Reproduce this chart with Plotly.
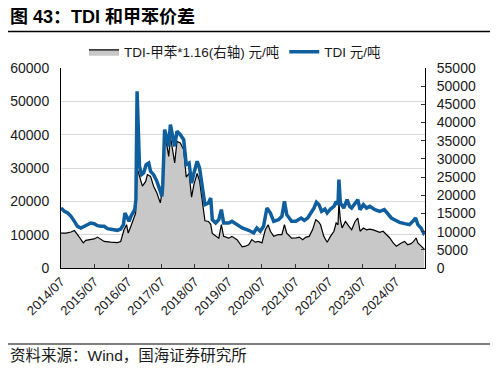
import plotly.graph_objects as go

# TDI price (left axis, 元/吨)
tdi_dates = [
    "2014-07-01", "2014-08-07", "2014-09-12", "2014-10-18", "2014-11-24", "2014-12-28",
    "2015-02-03", "2015-03-10", "2015-04-15", "2015-05-22", "2015-06-28", "2015-08-03",
    "2015-09-10", "2015-10-15", "2015-11-20", "2016-01-12", "2016-03-06", "2016-04-12",
    "2016-05-12", "2016-05-28", "2016-06-25", "2016-07-12", "2016-08-01", "2016-08-28",
    "2016-09-12", "2016-09-25", "2016-10-08", "2016-11-03", "2016-11-25", "2016-12-18",
    "2017-01-15", "2017-02-12", "2017-03-04", "2017-04-06", "2017-05-12", "2017-06-12",
    "2017-07-06", "2017-07-15", "2017-08-04", "2017-08-30", "2017-09-18", "2017-10-06",
    "2017-11-01", "2017-11-22", "2017-12-17", "2018-01-22", "2018-02-28", "2018-03-28",
    "2018-04-28", "2018-05-25", "2018-06-20", "2018-07-25", "2018-08-20", "2018-09-20",
    "2018-10-18", "2018-11-25", "2018-12-20", "2019-01-06", "2019-02-12", "2019-03-18",
    "2019-04-15", "2019-05-10", "2019-07-03", "2019-08-08", "2019-10-03", "2019-11-28",
    "2020-02-07", "2020-04-01", "2020-05-06", "2020-06-12", "2020-07-18", "2020-08-24",
    "2020-10-01", "2020-11-06", "2020-12-28", "2021-02-03", "2021-03-03", "2021-03-28",
    "2021-05-20", "2021-07-05", "2021-09-01", "2021-10-06", "2021-11-12", "2021-12-15",
    "2022-01-20", "2022-02-15", "2022-03-15", "2022-04-12", "2022-05-18", "2022-06-12",
    "2022-07-18", "2022-08-25", "2022-09-18", "2022-10-08", "2022-10-18", "2022-11-03",
    "2022-12-10", "2023-01-15", "2023-02-12", "2023-03-06", "2023-04-12", "2023-05-12",
    "2023-06-06", "2023-07-12", "2023-08-15", "2023-09-20", "2023-11-15", "2024-01-06",
    "2024-02-25", "2024-04-06", "2024-05-12", "2024-06-15", "2024-08-10", "2024-10-03",
    "2024-11-25", "2025-01-01", "2025-02-01", "2025-02-25", "2025-04-01", "2025-04-28",
    "2025-05-12",
]
tdi_values = [
    18000, 17000, 16500, 15500, 14000, 12500,
    12000, 12500, 13000, 13500, 13300, 12700,
    12500, 12500, 11800, 11500, 11300, 11700,
    13000, 16500, 14500, 14000, 15500, 17000,
    17500, 20500, 53000, 30500, 28000, 28500,
    31000, 31500, 29000, 28000, 26000, 23500,
    21500, 25000, 41500, 39000, 36500, 43000,
    39000, 36500, 41000, 40000, 38500, 31000,
    31500, 25500, 28500, 32000, 30000, 23500,
    19000, 19500, 21000, 14500, 13500, 14500,
    17500, 13500, 13500, 14000, 13000, 12000,
    11300, 10500, 12000, 11000, 12500, 18000,
    16500, 14000, 14500, 15500, 20000, 16000,
    14000, 14000, 15000, 14300, 15000, 16500,
    18000, 19700, 19000, 17000, 17700, 16500,
    17700, 18500, 20000, 19000, 26500, 19500,
    18000, 20500, 18500, 18000, 19500, 20500,
    17500, 19000, 18000, 18500, 17500, 17000,
    17500, 16000, 15000, 14500, 13700, 13300,
    13000, 14000, 15000, 13000, 12000, 10500,
    11000,
]

# TDI - toluene*1.16 spread (right axis, 元/吨)
spread_dates = [
    "2014-07-01", "2014-08-25", "2014-10-18", "2014-11-24", "2014-12-28", "2015-02-03",
    "2015-03-01", "2015-03-28", "2015-05-22", "2015-06-28", "2015-08-03", "2015-09-10",
    "2015-10-15", "2015-12-25", "2016-03-06", "2016-04-12", "2016-05-18", "2016-06-15",
    "2016-07-03", "2016-08-01", "2016-08-28", "2016-09-22", "2016-10-08", "2016-11-03",
    "2016-12-05", "2017-01-10", "2017-01-28", "2017-03-04", "2017-04-06", "2017-05-12",
    "2017-06-18", "2017-07-15", "2017-08-04", "2017-08-30", "2017-09-18", "2017-10-06",
    "2017-11-01", "2017-11-22", "2017-12-17", "2018-01-22", "2018-02-28", "2018-03-28",
    "2018-04-28", "2018-05-25", "2018-06-20", "2018-07-25", "2018-08-20", "2018-09-20",
    "2018-10-18", "2018-11-25", "2018-12-20", "2019-01-06", "2019-02-12", "2019-03-18",
    "2019-04-15", "2019-05-10", "2019-07-03", "2019-08-08", "2019-10-03", "2019-11-28",
    "2020-01-03", "2020-02-07", "2020-03-12", "2020-04-18", "2020-05-25", "2020-07-01",
    "2020-08-06", "2020-09-06", "2020-10-01", "2020-11-06", "2020-12-28", "2021-02-03",
    "2021-03-03", "2021-03-28", "2021-05-20", "2021-07-05", "2021-08-12", "2021-09-18",
    "2021-10-25", "2021-11-28", "2022-01-03", "2022-02-08", "2022-03-06", "2022-04-01",
    "2022-05-06", "2022-06-12", "2022-07-18", "2022-08-25", "2022-09-18", "2022-10-08",
    "2022-10-18", "2022-11-03", "2022-11-22", "2022-12-28", "2023-02-03", "2023-03-06",
    "2023-04-12", "2023-05-12", "2023-06-06", "2023-07-12", "2023-08-15", "2023-09-20",
    "2023-10-28", "2023-12-03", "2024-01-06", "2024-02-12", "2024-03-18", "2024-04-25",
    "2024-06-01", "2024-07-06", "2024-08-28", "2024-10-03", "2024-11-06", "2024-12-12",
    "2025-01-10", "2025-02-06", "2025-02-25", "2025-04-01", "2025-05-06",
]
spread_values = [
    9600, 9600, 9900, 10300, 9200, 7800,
    6900, 7600, 7800, 8000, 8500, 7800,
    7300, 7100, 7000, 7300, 10500, 11900,
    9600, 11500, 13300, 15100, 27500, 25200,
    22500, 23800, 25700, 25200, 22500, 20600,
    17900, 22000, 36000, 33500, 30700, 36200,
    31600, 28900, 34800, 34400, 32500, 25000,
    26000, 19500, 23000, 26000, 24000, 17500,
    13000, 12800, 12000, 9500, 8700, 8200,
    11900, 8700, 8200, 8700, 7800, 5800,
    6000, 6400, 7800, 7100, 7300, 6900,
    10500, 11900, 10100, 8700, 9200, 9200,
    11900, 9600, 8200, 8250, 8500, 7800,
    8500, 8700, 10500, 13300, 12800, 11900,
    8700, 7100, 8700, 10100, 12400, 11900,
    17900, 13300, 11000, 12800, 11500, 10500,
    12800, 13700, 10100, 11000, 10500, 10700,
    10500, 10100, 9800, 10100, 9200, 8250,
    6900, 6000, 6900, 7300, 6400, 6700,
    7300, 8250, 6900, 6100, 5200,
]

x_tick_vals = ["2014-07-01", "2015-07-01", "2016-07-01", "2017-07-01", "2018-07-01",
               "2019-07-01", "2020-07-01", "2021-07-01", "2022-07-01", "2023-07-01",
               "2024-07-01"]
x_tick_text = ["2014/07", "2015/07", "2016/07", "2017/07", "2018/07", "2019/07",
               "2020/07", "2021/07", "2022/07", "2023/07", "2024/07"]

FONT = "Liberation Sans, Arial, Noto Sans CJK SC, sans-serif"

fig = go.Figure()
fig.add_trace(go.Scatter(
    x=spread_dates, y=spread_values, yaxis="y2", name="TDI-甲苯*1.16(右轴) 元/吨",
    mode="lines", line=dict(color="black", width=1.2), fill="tozeroy",
    fillcolor="#c8c8c8",
))
fig.add_trace(go.Scatter(
    x=tdi_dates, y=tdi_values, yaxis="y", name="TDI 元/吨",
    mode="lines", line=dict(color="#0f5e9e", width=3.5),
))

# page has an 8px body margin: figure coords = page coords - 8
OFF = 8
W, H = 482, 356
PL, PR, PT, PB = 61, 425, 68, 268  # plot area in page coords
L, R, T, B = PL - OFF, PR - OFF, PT - OFF, PB - OFF


def px(xp):
    return (xp - PL) / (PR - PL)


def py(yp):
    return (PB - yp) / (PB - PT)


fig.update_layout(
    width=W, height=H,
    margin=dict(l=L, r=W - R, t=T, b=H - B, autoexpand=False),
    paper_bgcolor="white", plot_bgcolor="white",
    font=dict(family=FONT, size=14, color="#1a1a1a"),
    showlegend=True,
    legend=dict(orientation="h", x=px(84), y=py(52), xanchor="left", yanchor="middle",
                font=dict(size=13.5, family=FONT), bgcolor="rgba(0,0,0,0)",
                itemwidth=30, tracegroupgap=0),
    xaxis=dict(
        type="date", range=["2014-07-01", "2025-05-14"],
        tickvals=x_tick_vals, ticktext=x_tick_text, tickangle=-45,
        ticks="inside", ticklen=4, tickcolor="#333",
        showline=True, linecolor="black", linewidth=1, showgrid=False,
        tickfont=dict(size=13), zeroline=False, automargin=False,
    ),
    yaxis2=dict(
        side="right", range=[0, 55000], dtick=5000, tick0=0, tickformat="d",
        ticks="inside", ticklen=4, tickcolor="#333",
        showline=True, linecolor="black", linewidth=1, showgrid=False,
        zeroline=False, tickfont=dict(size=14), ticklabelstandoff=8, automargin=False,
    ),
    yaxis=dict(
        overlaying="y2", side="left", range=[0, 60000], dtick=10000, tick0=0,
        tickformat="d",
        showline=True, linecolor="black", linewidth=1,
        showgrid=True, gridcolor="#d9d9d9", gridwidth=1, zeroline=False,
        ticks="", tickfont=dict(size=14), ticklabelstandoff=8, automargin=False,
    ),
    shapes=[
        dict(type="line", xref="paper", yref="paper", x0=px(3), x1=px(494),
             y0=py(31.5), y1=py(31.5), line=dict(color="black", width=1.5)),
        dict(type="line", xref="paper", yref="paper", x0=px(3), x1=px(494),
             y0=py(344), y1=py(344), line=dict(color="black", width=1.2)),
    ],
    annotations=[
        dict(text="<b>图 43：TDI 和甲苯价差</b>", xref="paper", yref="paper",
             x=px(8), y=py(16), xanchor="left", yanchor="middle", showarrow=False,
             font=dict(size=18, family="Liberation Sans, Noto Sans CJK SC", color="black")),
        dict(text="资料来源：Wind，国海证券研究所", xref="paper", yref="paper",
             x=px(8), y=py(355), xanchor="left", yanchor="middle", showarrow=False,
             font=dict(size=15.5, family="Liberation Sans, Noto Sans CJK SC", color="#1a1a1a")),
    ],
)

fig.write_html("out.html")
